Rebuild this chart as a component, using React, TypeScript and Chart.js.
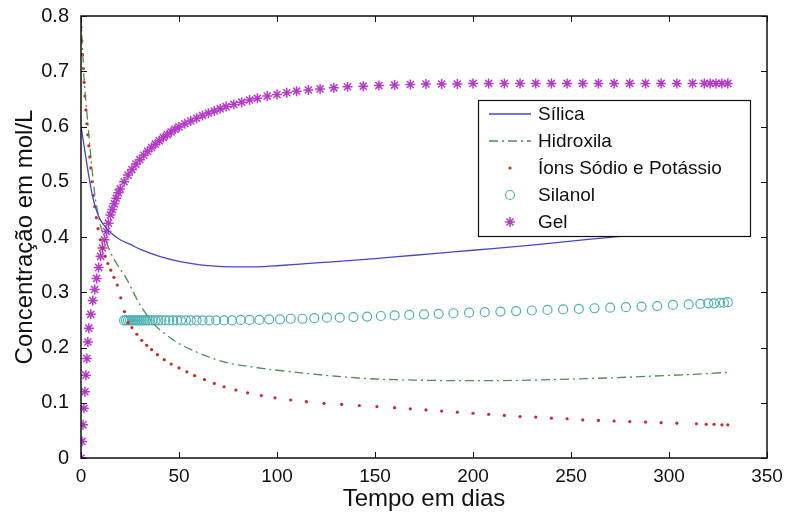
import React, { useEffect, useRef } from "react";
import { Chart, registerables } from "chart.js";

Chart.register(...registerables);

// ---------- data ----------
const X_TICKS = [0, 50, 100, 150, 200, 250, 300, 350];
const Y_TICKS = [0, 0.1, 0.2, 0.3, 0.4, 0.5, 0.6, 0.7, 0.8];

const LABELS = ["Sílica", "Hidroxila", "Íons Sódio e Potássio", "Silanol", "Gel"];

const silicaT = [0, 1, 2, 3, 4, 5, 6, 8, 10, 12, 15, 20, 25, 30, 40, 50, 60, 70, 80, 90, 100, 120, 140, 160, 180, 200, 220, 240, 260, 280, 300, 320, 330];
const silicaV = [0.6, 0.578, 0.555, 0.532, 0.51, 0.49, 0.472, 0.447, 0.43, 0.42, 0.408, 0.395, 0.387, 0.378, 0.365, 0.356, 0.35, 0.347, 0.346, 0.346, 0.348, 0.353, 0.358, 0.364, 0.37, 0.376, 0.382, 0.389, 0.396, 0.403, 0.41, 0.418, 0.422];

const hidroxilaT = [0, 0.5, 1, 1.5, 2, 3, 4, 5, 6, 7, 8, 10, 13, 16, 20, 23, 27, 30, 35, 39, 45, 50, 57, 65, 75, 85, 95, 110, 130, 150, 170, 190, 210, 230, 250, 270, 290, 310, 330];
const hidroxilaV = [0.8, 0.76, 0.725, 0.69, 0.665, 0.625, 0.585, 0.545, 0.51, 0.478, 0.455, 0.42, 0.39, 0.365, 0.342, 0.326, 0.298, 0.278, 0.252, 0.236, 0.219, 0.207, 0.195, 0.183, 0.172, 0.166, 0.161, 0.155, 0.148, 0.143, 0.141, 0.14, 0.14, 0.141, 0.143, 0.145, 0.148, 0.151, 0.155];

const ionsT = [0, 0.4, 0.8, 1.2, 1.6, 2, 2.5, 3, 3.5, 4, 4.5, 5, 5.6, 6.3, 7, 7.8, 8.7, 9.8, 11, 12.3, 13.7, 15.2, 16.8, 18.5, 20.3, 22.2, 24, 26, 28.5, 31, 33.5, 36, 39, 42.5, 46, 50, 54, 58, 63, 68, 73, 79, 85, 92, 99, 107, 115, 124, 133, 142, 151, 160, 168, 176, 184, 192, 200, 208, 216, 224, 232, 240, 248, 256, 264, 272, 280, 288, 296, 304, 314, 319, 323, 327, 330];
const ionsV = [0.78, 0.755, 0.73, 0.705, 0.68, 0.655, 0.63, 0.605, 0.585, 0.565, 0.545, 0.525, 0.5, 0.475, 0.455, 0.435, 0.415, 0.395, 0.38, 0.365, 0.352, 0.34, 0.327, 0.313, 0.29, 0.265, 0.245, 0.236, 0.224, 0.213, 0.204, 0.196, 0.187, 0.178, 0.17, 0.163, 0.156, 0.149, 0.142, 0.135, 0.129, 0.123, 0.118, 0.113, 0.109, 0.105, 0.102, 0.099, 0.097, 0.095, 0.093, 0.091, 0.089, 0.087, 0.085, 0.083, 0.081, 0.079, 0.077, 0.075, 0.074, 0.072, 0.071, 0.069, 0.068, 0.067, 0.066, 0.065, 0.064, 0.063, 0.062, 0.061, 0.061, 0.06, 0.06];

const silanolT = [22, 23, 24, 25, 26, 27, 28, 29, 30, 31, 32, 33, 34, 35, 36.5, 38, 39.5, 41, 43, 45, 47, 49, 51, 53.5, 56, 59, 62, 65.5, 69, 73, 77, 81.5, 86, 91, 96, 101.5, 107, 113, 119, 125.5, 132, 139, 146, 153, 160, 167.5, 175, 182.5, 190, 198, 206, 214, 222, 230, 238, 246, 254, 262, 270, 278, 286, 294, 302, 310, 316, 320, 323, 326, 328, 330];
const silanolV = [0.249, 0.249, 0.249, 0.249, 0.249, 0.249, 0.249, 0.249, 0.249, 0.249, 0.249, 0.249, 0.249, 0.249, 0.249, 0.249, 0.249, 0.249, 0.249, 0.249, 0.249, 0.249, 0.249, 0.249, 0.249, 0.249, 0.249, 0.249, 0.249, 0.249, 0.249, 0.25, 0.25, 0.25, 0.251, 0.251, 0.252, 0.252, 0.253, 0.254, 0.254, 0.255, 0.256, 0.257, 0.258, 0.259, 0.26, 0.261, 0.262, 0.263, 0.264, 0.265, 0.266, 0.267, 0.268, 0.269, 0.27, 0.271, 0.272, 0.273, 0.274, 0.275, 0.277, 0.278, 0.279, 0.28, 0.28, 0.281, 0.281, 0.282];

const gelT = [0, 0.5, 1, 1.5, 2, 2.5, 3, 3.5, 4, 5, 6, 7, 8, 9, 10, 11, 12, 13, 14, 15, 16, 17, 18, 19, 20, 22, 24, 26, 28, 30, 32, 34, 36, 38, 40, 42, 44, 46, 48, 50, 53, 56, 59, 62, 65, 68, 71, 74, 78, 82, 86, 90, 95, 100, 105, 110, 116, 122, 129, 136, 144, 152, 160, 168, 176, 184, 192, 200, 208, 216, 224, 232, 240, 248, 256, 264, 272, 280, 288, 296, 304, 312, 318, 321, 324, 327, 330];
const gelV = [0, 0.03, 0.06, 0.09, 0.12, 0.15, 0.18, 0.21, 0.235, 0.26, 0.285, 0.305, 0.325, 0.345, 0.365, 0.38, 0.395, 0.41, 0.425, 0.44, 0.45, 0.46, 0.47, 0.48, 0.487, 0.5, 0.512, 0.522, 0.532, 0.54, 0.548, 0.555, 0.562, 0.568, 0.574, 0.58, 0.585, 0.59, 0.595, 0.599, 0.605, 0.61, 0.615, 0.62, 0.624, 0.628, 0.632, 0.636, 0.64, 0.644, 0.648, 0.651, 0.655, 0.658, 0.661, 0.664, 0.666, 0.668, 0.67, 0.672, 0.673, 0.674, 0.675, 0.676, 0.677, 0.677, 0.677, 0.678, 0.678, 0.678, 0.678, 0.678, 0.678, 0.678, 0.678, 0.678, 0.678, 0.678, 0.678, 0.678, 0.678, 0.678, 0.678, 0.678, 0.678, 0.678, 0.678];

// ---------- styles ----------
const C_SILICA = "#4545d0";
const C_HIDROX = "#4f8f4f";
const C_IONS = "#d02828";
const C_SILANOL = "#4fb0b0";
const C_GEL = "#b53ac8";
const FONT = "'Liberation Sans', Arial, Helvetica, sans-serif";

const pts = (t: number[], v: number[]) => t.map((x, i) => ({ x, y: v[i] }));

const framePlugin = {
  id: "frame",
  afterDatasetsDraw(chart: any) {
    const { ctx, chartArea, scales } = chart;
    const { left, right, top, bottom } = chartArea;
    ctx.save();
    ctx.strokeStyle = "#111";
    ctx.lineWidth = 1.5;
    ctx.strokeRect(left, top, right - left, bottom - top);
    const tl = 6;
    ctx.lineWidth = 1;
    ctx.beginPath();
    X_TICKS.forEach((v) => {
      const px = Math.round(scales.x.getPixelForValue(v)) + 0.5;
      ctx.moveTo(px, bottom);
      ctx.lineTo(px, bottom - tl);
      ctx.moveTo(px, top);
      ctx.lineTo(px, top + tl);
    });
    Y_TICKS.forEach((v) => {
      const py = Math.round(scales.y.getPixelForValue(v)) + 0.5;
      ctx.moveTo(left, py);
      ctx.lineTo(left + tl, py);
      ctx.moveTo(right, py);
      ctx.lineTo(right - tl, py);
    });
    ctx.stroke();
    ctx.restore();
  },
};

const legendPlugin = {
  id: "customLegend",
  afterDraw(chart: any) {
    const { ctx } = chart;
    const bx = 478, by = 100, bw = 272, bh = 136;
    ctx.save();
    ctx.fillStyle = "#fff";
    ctx.fillRect(bx, by, bw, bh);
    ctx.strokeStyle = "#111";
    ctx.lineWidth = 1.2;
    ctx.strokeRect(bx + 0.5, by + 0.5, bw, bh);
    const rowH = 27;
    const y0 = by + 14;
    const sx0 = bx + 11, sx1 = bx + 53, sxc = (sx0 + sx1) / 2;
    ctx.font = `19px ${FONT}`;
    ctx.textBaseline = "middle";
    ctx.textAlign = "left";
    LABELS.forEach((lab, i) => {
      const y = y0 + i * rowH;
      ctx.save();
      if (i === 0) {
        ctx.strokeStyle = C_SILICA; ctx.lineWidth = 1.3;
        ctx.beginPath(); ctx.moveTo(sx0, y); ctx.lineTo(sx1, y); ctx.stroke();
      } else if (i === 1) {
        ctx.strokeStyle = C_HIDROX; ctx.lineWidth = 1.3; ctx.setLineDash([9, 4, 2, 4]);
        ctx.beginPath(); ctx.moveTo(sx0, y); ctx.lineTo(sx1, y); ctx.stroke();
      } else if (i === 2) {
        ctx.fillStyle = C_IONS;
        ctx.beginPath(); ctx.arc(sxc, y, 1.6, 0, Math.PI * 2); ctx.fill();
      } else if (i === 3) {
        ctx.strokeStyle = C_SILANOL; ctx.lineWidth = 1.2;
        ctx.beginPath(); ctx.arc(sxc, y, 4.5, 0, Math.PI * 2); ctx.stroke();
      } else {
        ctx.strokeStyle = C_GEL; ctx.lineWidth = 1.5;
        const r = 5;
        ctx.beginPath();
        for (let k = 0; k < 4; k++) {
          const a = (k * Math.PI) / 4;
          ctx.moveTo(sxc - r * Math.cos(a), y - r * Math.sin(a));
          ctx.lineTo(sxc + r * Math.cos(a), y + r * Math.sin(a));
        }
        ctx.stroke();
      }
      ctx.restore();
      ctx.fillStyle = "#111";
      ctx.fillText(lab, bx + 60, y + 1);
    });
    ctx.restore();
  },
};

export default function App() {
  const ref = useRef<HTMLCanvasElement>(null);

  useEffect(() => {
    if (!ref.current) return;
    const chart = new Chart(ref.current, {
      type: "line",
      data: {
        datasets: [
          {
            label: LABELS[0],
            data: pts(silicaT, silicaV),
            borderColor: C_SILICA,
            borderWidth: 1.3,
            pointRadius: 0,
            showLine: true,
            tension: 0.3,
          },
          {
            label: LABELS[1],
            data: pts(hidroxilaT, hidroxilaV),
            borderColor: C_HIDROX,
            borderWidth: 1.3,
            borderDash: [9, 4, 2, 4],
            pointRadius: 0,
            showLine: true,
            tension: 0.3,
          },
          {
            label: LABELS[2],
            data: pts(ionsT, ionsV),
            showLine: false,
            pointStyle: "circle",
            pointRadius: 1.6,
            pointBackgroundColor: C_IONS,
            pointBorderWidth: 0,
            borderColor: C_IONS,
          },
          {
            label: LABELS[3],
            data: pts(silanolT, silanolV),
            showLine: false,
            pointStyle: "circle",
            pointRadius: 4.5,
            pointBackgroundColor: "rgba(0,0,0,0)",
            pointBorderColor: C_SILANOL,
            pointBorderWidth: 1.2,
            borderColor: C_SILANOL,
          },
          {
            label: LABELS[4],
            data: pts(gelT, gelV),
            showLine: false,
            pointStyle: "star",
            pointRadius: 5,
            pointBorderColor: C_GEL,
            pointBorderWidth: 1.5,
            borderColor: C_GEL,
          },
        ],
      },
      options: {
        responsive: false,
        animation: false,
        layout: { padding: { top: 16, right: 20, left: 0, bottom: 0 } },
        plugins: { legend: { display: false }, tooltip: { enabled: false } },
        scales: {
          x: {
            type: "linear",
            min: 0,
            max: 350,
            afterFit: (s: any) => { s.height = 55; },
            grid: { display: false },
            border: { display: false },
            ticks: {
              stepSize: 50,
              padding: 0,
              color: "#111",
              font: { family: FONT, size: 19, lineHeight: 1.1 },
              maxRotation: 0,
            },
            title: {
              display: true,
              text: "Tempo em dias",
              color: "#111",
              font: { family: FONT, size: 24, lineHeight: 1.1 },
              padding: { top: 0, bottom: 0 },
            },
          },
          y: {
            type: "linear",
            min: 0,
            max: 0.8,
            afterFit: (s: any) => { s.width = 81; },
            grid: { display: false },
            border: { display: false },
            ticks: {
              stepSize: 0.1,
              padding: 4,
              color: "#111",
              font: { family: FONT, size: 20 },
              callback: (v: any) => String(Number(Number(v).toFixed(1))),
            },
            title: {
              display: true,
              text: "Concentração em mol/L",
              color: "#111",
              font: { family: FONT, size: 24, lineHeight: 1.2 },
              padding: { top: 11, bottom: 0 },
            },
          },
        },
      },
      plugins: [framePlugin, legendPlugin],
    });
    return () => chart.destroy();
  }, []);

  return (
    <div style={{ position: "absolute", left: 0, top: 0, width: 787, height: 513, background: "#fff" }}>
      <canvas ref={ref} width={787} height={513} style={{ display: "block", width: 787, height: 513 }} />
    </div>
  );
}
